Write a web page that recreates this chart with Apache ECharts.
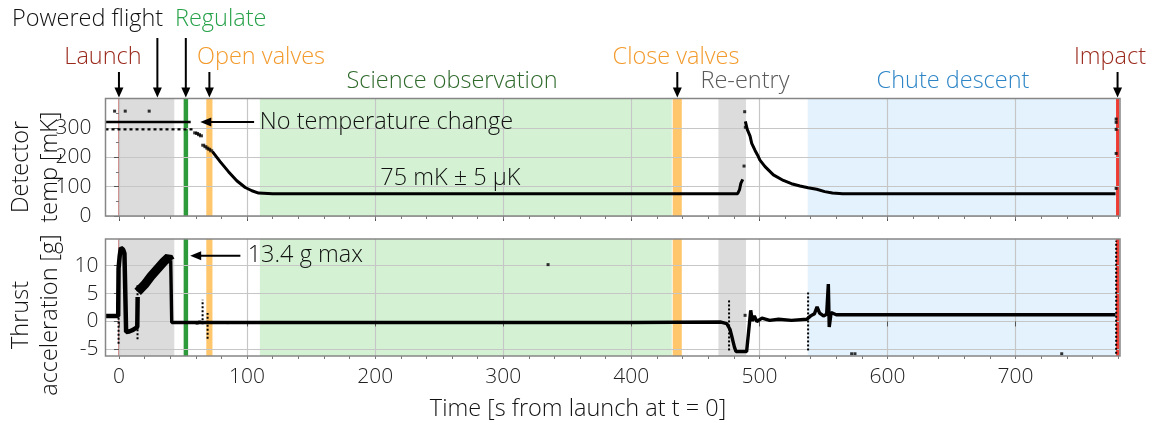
<!DOCTYPE html>
<html>
<head>
<meta charset="utf-8">
<title>Flight profile</title>
<script src="https://cdn.jsdelivr.net/npm/echarts@6/dist/echarts.min.js"></script>
<style>
  html, body { margin: 0; padding: 0; background: #fff; }
  #chart { width: 1154px; height: 423px; }
</style>
</head>
<body>
<div id="chart"></div>
<script>
// ---- data (time in s from launch) ----
var timeRange = [-10.5, 781.5];
var timeTicks = [0, 100, 200, 300, 400, 500, 600, 700];
var timeMinor = [0, 20, 40, 60, 80, 100, 120, 140, 160, 180, 200, 220, 240, 260, 280, 300, 320, 340, 360, 380,
                 400, 420, 440, 460, 480, 500, 520, 540, 560, 580, 600, 620, 640, 660, 680, 700, 720, 740, 760, 780];
var tempRange = [0, 400];
var accRange = [-6.2, 14.8];
var accTicks = [-5, 0, 5, 10];

// flight phases
var phaseNames = ['Powered flight', 'Regulate', 'Open valves', 'Science observation', 'Close valves', 'Re-entry', 'Chute descent', 'Impact'];
var phaseStart = [0, 50.5, 68.2, 110, 432.3, 468, 537.7, 778.4];
var phaseEnd   = [43.2, 54, 73, 431.6, 439.4, 489.5, 778.4, 781];
var launchTime = 0;

// detector temperature [mK]
var tempHold = [[-10.5, 320], [56, 320]];
var tempPad = [[-10.5, 295], [58, 295]];
var tempSteps = [[59.5, 283], [61, 281], [62.5, 277], [64, 273], [65.8, 241], [67.5, 236], [69, 231], [70.5, 227], [72, 222]];
var tempCool = [[73, 219], [79, 185], [85.5, 151], [92, 120], [98.6, 97], [103.8, 86], [109, 78], [120, 76], [300, 76],
                [483, 76], [484.5, 90], [485.5, 111], [487, 125]];
var tempWarm = [[489, 322], [490.5, 295], [492.7, 272], [494, 247], [496.5, 224], [498.6, 207], [500.4, 190], [504.4, 168],
                [510.9, 140], [518.7, 121], [525, 110], [531.7, 102], [538, 96], [544.7, 91], [551, 83], [557, 78], [565, 76],
                [700, 76], [778, 76]];
var tempOut = [[-3.4, 357], [4.9, 357], [23.6, 357], [488, 170], [488.5, 355], [489, 302],
               [778.5, 330], [778.5, 319], [778.5, 295], [778.5, 213], [778.5, 94]];

// thrust acceleration [g]
var accLaunch = [[-10.5, 1.0], [-0.6, 1.0], [-0.3, 9.5], [0.6, 11.8], [1.5, 13.2], [2.3, 13.4], [3.3, 12.9], [4.3, 12.2],
                 [5.6, -1.9], [8, -1.8], [11, -1.5], [14.3, -1.0], [14.6, 4.4]];
var accBurn = [[14.6, 5.3], [20, 6.6], [25, 8.1], [30, 9.4], [35, 10.7], [38.7, 11.5], [40.3, 10.9]];
var accCoast = [[40.4, 11.0], [41.2, -0.2], [60, -0.2], [200, -0.2], [400, -0.2], [470, -0.1], [474.5, -0.4], [477, -1.4],
                [479, -3.2], [480.5, -4.6], [481.7, -5.4], [490, -5.4], [491.5, -2.0], [493.2, 2.0], [494.5, 0.1], [496, 1.0],
                [498, 0.0], [502, 0.6], [508, 0.2], [515, 0.4], [525, 0.2], [537, 0.4], [540, 1.0], [543, 1.4], [545, 2.6],
                [547, 1.5], [550, 1.0], [552.5, 1.3], [553.8, 6.7], [554.5, -1.0], [556, 1.6], [560, 1.2], [700, 1.2], [778, 1.2]];
var accSpikes = [[-0.3, -4.0, 9.0], [14.5, -3.2, 6.8], [65.3, -0.5, 3.9], [69.2, -3.1, 1.5], [476.3, -5.2, 3.8],
                 [538, -5.2, 5.2], [778.5, -5.8, 14.5]];
var accOut = [[335, 10.2], [488.8, 1.1], [572, -5.8], [574.6, -5.8], [736, -5.8], [61, -0.3], [63, -0.1], [85, -0.2]];

// ---- style ----
var FONT = '"Open Sans"';
var TFONT = '300 23.5px ' + FONT;
var INK = '#111';
var phaseColors = ['#dcdcdc', '#2e9b3a', '#ffc66b', '#d4f2d3', '#ffc66b', '#dcdcdc', '#e3f2fc', '#ee3b33'];
var grids = [
  { left: 105.5, top: 98.5, width: 1014.5, height: 117.5 },
  { left: 105.5, top: 239, width: 1014.5, height: 117 }
];

function phaseAreas() {
  return phaseStart.map(function (s, i) {
    return [{ name: phaseNames[i], xAxis: s, itemStyle: { color: phaseColors[i] } }, { xAxis: phaseEnd[i] }];
  });
}
function launchMark() {
  return { silent: true, z: 1.5, symbol: ['none', 'none'], label: { show: false },
           lineStyle: { color: '#d38b8b', width: 2, type: 'solid' }, data: [{ xAxis: launchTime }] };
}
function timeAxis(gi, labels) {
  return {
    type: 'value', gridIndex: gi, min: timeRange[0], max: timeRange[1], z: 2,
    axisLine: { show: false },
    axisTick: { show: true, length: 5, customValues: timeTicks, lineStyle: { color: '#555' } },
    axisLabel: { show: labels, customValues: timeTicks, margin: 11, fontSize: 21, fontWeight: 300, color: '#222', fontFamily: FONT },
    splitLine: { show: true, lineStyle: { color: '#c6c6c6', width: 1.2 } }
  };
}
function minorAxis(gi) {
  return {
    type: 'value', gridIndex: gi, position: 'bottom', min: timeRange[0], max: timeRange[1], z: 2,
    axisLine: { show: false },
    axisTick: { show: true, length: 3, customValues: timeMinor, lineStyle: { color: '#777' } },
    axisLabel: { show: false }, splitLine: { show: false }
  };
}
function lineSeries(gi, data, width, extra) {
  var s = { type: 'line', xAxisIndex: gi, yAxisIndex: gi, data: data, showSymbol: false, z: 4,
            lineStyle: { color: '#000', width: width }, silent: true };
  for (var k in extra) s[k] = extra[k];
  return s;
}
function dots(gi, data, size) {
  return { type: 'scatter', xAxisIndex: gi, yAxisIndex: gi, data: data, symbol: 'rect', symbolSize: size,
           itemStyle: { color: '#000' }, z: 4, silent: true };
}
var areaOpt = { silent: true, z: 1, label: { show: false }, data: phaseAreas() };

var series = [
  lineSeries(0, tempHold, 2.5, { markArea: areaOpt, markLine: launchMark() }),
  lineSeries(0, tempPad, 2.2, { lineStyle: { color: '#000', width: 2.2, type: [3, 3] } }),
  dots(0, tempSteps, [4, 3]),
  lineSeries(0, tempCool, 3),
  lineSeries(0, tempWarm, 3),
  dots(0, tempOut, 3),
  lineSeries(1, accLaunch, 4.5, { markArea: areaOpt, markLine: launchMark() }),
  lineSeries(1, accBurn, 9),
  lineSeries(1, accCoast, 3.4),
  dots(1, accOut, 3)
];
accSpikes.forEach(function (sp) {
  series.push(lineSeries(1, [[sp[0], sp[1]], [sp[0], sp[2]]], 2, { lineStyle: { color: '#000', width: 2, type: [2, 2] } }));
});

var chart = echarts.init(document.getElementById('chart'));
chart.setOption({
  animation: false,
  backgroundColor: '#fff',
  textStyle: { fontFamily: FONT },
  grid: grids,
  xAxis: [timeAxis(0, false), timeAxis(1, true), minorAxis(0), minorAxis(1)],
  yAxis: [
    { type: 'value', gridIndex: 0, min: tempRange[0], max: tempRange[1], interval: 100, z: 2,
      axisLine: { show: false },
      axisTick: { show: true, length: 5, lineStyle: { color: '#555' } },
      minorTick: { show: true, splitNumber: 2, length: 3, lineStyle: { color: '#777' } },
      axisLabel: { showMaxLabel: false, margin: 14, fontSize: 21, fontWeight: 300, color: '#222', fontFamily: FONT },
      splitLine: { show: true, lineStyle: { color: '#c6c6c6', width: 1.2 } } },
    { type: 'value', gridIndex: 1, min: accRange[0], max: accRange[1], z: 2,
      axisLine: { show: false },
      axisTick: { show: true, length: 5, customValues: accTicks, lineStyle: { color: '#555' } },
      axisLabel: { customValues: accTicks, margin: 7, fontSize: 21, fontWeight: 300, color: '#222', fontFamily: FONT },
      splitLine: { show: true, lineStyle: { color: '#c6c6c6', width: 1.2 } } }
  ],
  series: series
});

// ---- annotations ----
function px(t) { return chart.convertToPixel({ xAxisIndex: 0 }, t); }
function pyT(v) { return chart.convertToPixel({ yAxisIndex: 0 }, v); }
function pyA(v) { return chart.convertToPixel({ yAxisIndex: 1 }, v); }

var g = [];
function text(s, x, y, color, align, rot) {
  g.push({ type: 'text', x: x, y: y, z: 50, silent: true, rotation: rot || 0,
           style: { text: s, fill: color, font: TFONT, align: align || 'left', verticalAlign: 'middle', lineHeight: 29 } });
}
function downArrow(x, y0, y1) {
  g.push({ type: 'line', z: 50, silent: true, shape: { x1: x, y1: y0, x2: x, y2: y1 - 8 }, style: { stroke: '#000', lineWidth: 2 } });
  g.push({ type: 'polygon', z: 50, silent: true, shape: { points: [[x - 4.5, y1 - 10], [x + 4.5, y1 - 10], [x, y1]] }, style: { fill: '#000' } });
}
function leftArrow(x0, x1, y) {
  g.push({ type: 'line', z: 50, silent: true, shape: { x1: x0, y1: y, x2: x1 + 8, y2: y }, style: { stroke: '#000', lineWidth: 2 } });
  g.push({ type: 'polygon', z: 50, silent: true, shape: { points: [[x1 + 11, y - 4.5], [x1 + 11, y + 4.5], [x1, y]] }, style: { fill: '#000' } });
}

var gridTop = grids[0].top;
text('Powered flight', 12, 19, INK);
text('Regulate', 175, 19, '#27a24a');
text('Launch', 103, 57, '#9b2a1e', 'center');
text('Open valves', 197, 57, '#f39a2c');
text('Close valves', 676, 57, '#f39a2c', 'center');
text('Impact', 1110, 57, '#9b2a1e', 'center');
text('Science observation', 452, 81, '#2f6a2c', 'center');
text('Re-entry', 745, 81, '#5a5a5a', 'center');
text('Chute descent', 953, 81, '#2d85c6', 'center');

downArrow(px(30), 38, gridTop - 1);
downArrow(px(52.2), 38, gridTop - 1);
downArrow(px(launchTime), 72, gridTop - 1);
downArrow(px(70.6), 72, gridTop - 1);
downArrow(px(435.9), 72, gridTop - 1);
downArrow(px(779.6), 72, gridTop - 1);

leftArrow(px(105.5), px(63.5), pyT(320));
text('No temperature change', px(110), pyT(320), INK);
text('75 mK \u00b1 5 \u03bcK', px(204), pyT(129), INK);
leftArrow(px(94.8), px(55.6), pyA(11.8));
text('13.4 g max', px(100.5), pyA(11.8), INK);

// axis titles
text('Detector\ntemp [mK]', 36, 167, INK, 'center', Math.PI / 2);
text('Thrust\nacceleration [g]', 36, 315, INK, 'center', Math.PI / 2);
text('Time [s from launch at t = 0]', 578, 409, INK, 'center');

// panel frames
grids.forEach(function (gr) {
  g.push({ type: 'rect', z: 60, silent: true, shape: { x: gr.left, y: gr.top, width: gr.width, height: gr.height },
           style: { fill: 'none', stroke: '#868686', lineWidth: 1.5 } });
});

chart.setOption({ graphic: g });
</script>
</body>
</html>
